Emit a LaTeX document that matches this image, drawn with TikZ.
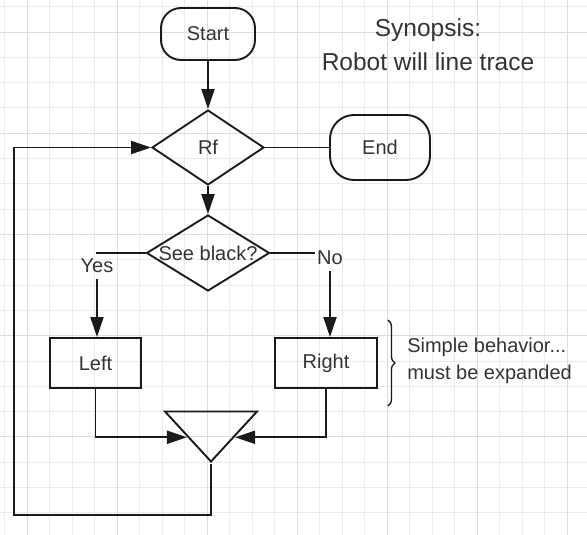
\documentclass[tikz,border=0pt]{standalone}
\usepackage{fontspec}
\setmainfont{Liberation Sans}
\usetikzlibrary{shapes.geometric,arrows.meta,decorations.pathreplacing}

\definecolor{gridminor}{HTML}{EBEBEB}
\definecolor{gridmajor}{HTML}{DDDDDD}
\definecolor{ink}{HTML}{1A1A1A}
\definecolor{txt}{HTML}{333333}

\begin{document}
\begin{tikzpicture}[x=1pt,y=-1pt,color=ink,line width=1.9pt,
  every node/.style={font=\fontsize{20}{27}\selectfont,text=txt},
  term/.style={draw,rectangle,rounded corners=20pt,minimum width=94pt,minimum height=52pt},
  decision/.style={draw,diamond,inner sep=0pt},
  act/.style={draw,rectangle,minimum height=50pt},
  junction/.style={draw,isosceles triangle,isosceles triangle stretches,
    shape border rotate=270,inner sep=0pt,minimum width=92pt,minimum height=50pt},
  lbl/.style={inner xsep=1pt,inner ysep=5pt},
  flow/.style={-{Triangle[length=20pt,width=13pt]}},
  gridline/.style={line width=.8pt,draw=gridminor}]
  \useasboundingbox (0,0) rectangle (587,535);
  % background grid
  \foreach \i in {0,...,25}
    \draw[gridline] ({4.5+22.5*\i},0) -- ({4.5+22.5*\i},535);
  \foreach \j in {0,...,20}
    \draw[gridline] (0,{6.7+25.3*\j}) -- (587,{6.7+25.3*\j});
  \foreach \i in {1,5,...,25}
    \draw[gridline,draw=gridmajor] ({4.5+22.5*\i},0) -- ({4.5+22.5*\i},535);
  \foreach \j in {1,5,...,17}
    \draw[gridline,draw=gridmajor] (0,{6.7+25.3*\j}) -- (587,{6.7+25.3*\j});

  \node[term] (start) at (208,34) {Start};
  \node[decision,minimum width=112pt,minimum height=75pt] (rf) at (208,147.5) {Rf};
  \node[term,minimum width=100pt,minimum height=65pt,rounded corners=24pt] (stop) at (380,147.5) {End};
  \node[decision,minimum width=123pt,minimum height=76pt,label=center:See black?] (see) at (208,253) {};
  \node[lbl] (yes) at (97,266) {Yes};
  \node[lbl] (no) at (330,258) {No};
  \node[act,minimum width=91pt] (left) at (95.5,363) {Left};
  \node[act,minimum width=102pt] (right) at (326,363) {Right};
  \node[junction,anchor=apex] (merge) at (211,464) {};
  \coordinate (back) at (14,515);

  \draw[flow] (start) -- (rf);
  \draw (rf) -- (stop);
  \draw[flow] (rf) -- (see);
  \draw (see.west) -| (yes.north);
  \draw[flow] (yes.south) -- (yes.south |- left.north);
  \draw (see.east) -- (see.east -| no.west);
  \draw[flow] (no.south) -- (no.south |- right.north);
  \draw[flow] (left.south) |- (merge.right side);
  \draw[flow] (right.south) |- (merge.left side);
  \draw[flow] (merge.apex) |- (back) |- (rf.west);

  % note on the two actions
  \draw[decorate,decoration={brace,amplitude=7pt},line width=1.3pt]
    ([xshift=10pt,yshift=17pt]right.north east) -- ([xshift=10pt,yshift=-17pt]right.south east);
  \node[anchor=west,align=left] (note) at (403,361) {Simple behavior...\\must be expanded};
  \node[align=center,font=\fontsize{24.5}{34}\selectfont] (synopsis) at (428,45)
    {Synopsis:\\Robot will line trace};
\end{tikzpicture}
\end{document}
